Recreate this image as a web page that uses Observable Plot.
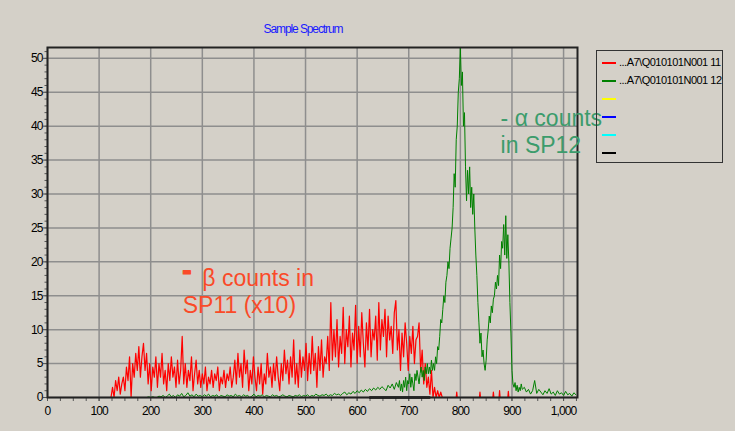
<!DOCTYPE html>
<html>
<head>
<meta charset="utf-8">
<script src="https://cdn.jsdelivr.net/npm/d3@7"></script>
<script src="https://cdn.jsdelivr.net/npm/@observablehq/plot@0.6"></script>
<style>
  html, body { margin: 0; padding: 0; background: #d4d0c8; }
  #wrap { position: relative; width: 735px; height: 431px; overflow: hidden; background: #d4d0c8; font-family: "Liberation Sans", Arial, sans-serif; }
  #title { position: absolute; left: 0; width: 606px; top: 22px; text-align: center; color: #1a1aff; font-size: 12px; letter-spacing: -1.1px; }
  #legend { position: absolute; left: 596px; top: 50px; width: 127px; height: 113px; border: 1px solid #333; box-sizing: border-box; }
  .lrow { position: absolute; left: 0; height: 18px; width: 127px; }
  .lline { position: absolute; left: 5px; top: 8px; width: 14px; height: 2px; }
  .ltext { position: absolute; left: 22px; top: 2px; font-size: 11px; letter-spacing: -0.5px; color: #000; white-space: nowrap; }
  svg text { letter-spacing: -0.9px; }
  svg .anno text { letter-spacing: 0px; }
</style>
</head>
<body>
<div id="wrap">
  <div id="title">Sample Spectrum</div>
  <div id="chart"></div>
  <div id="legend"></div>
</div>
<script>
// ---- Data ----
const titleText = "Sample Spectrum";
const seriesNames = ["...A7\\Q010101N001 11", "...A7\\Q010101N001 12", "", "", "", ""];
const seriesColors = ["#ff0000", "#008000", "#ffff00", "#0000ff", "#00ffff", "#000000"];

// Red series (beta counts x10), channels 120..765, step 3
const redStart = 120, redStep = 3;
const redCounts = [
  0, 0, 1.5, 0, 2.5, 1, 3, 0.5, 2, 3,
  1, 4.5, 2.5, 6, 0, 5, 3, 6.5, 4, 7.5,
  3, 6, 8, 4, 6.5, 2, 5, 1, 4.5, 3,
  6, 1.5, 5, 3, 6.5, 2, 4, 1, 5, 2.5,
  6, 3, 4.5, 1.5, 5.5, 2, 4, 9, 2, 5,
  1.5, 4, 2.5, 6, 1, 3.5, 5.5, 2, 4, 1.5,
  3.5, 2, 4.5, 1, 3, 2, 4, 1.5, 3.5, 2.5,
  4.5, 1, 3, 2, 4, 1.5, 3.5, 2.5, 4.5, 1.5,
  3, 5.5, 2, 6.5, 3, 5, 1.5, 7, 3.5, 5.5,
  1, 4, 2, 6, 3, 1, 4.5, 2, 5, 0.5,
  3.5, 2, 6.5, 3, 4.5, 1.5, 5, 2.5, 6, 3,
  1, 5, 2.5, 7, 3.5, 5.5, 2, 6, 3, 8.5,
  2, 5, 1.5, 7, 3, 6, 4, 8, 2.5, 6.5,
  3.5, 9, 4, 6.5, 1.5, 7.5, 4, 8.5, 3, 6,
  5, 9, 4, 14, 5.5, 10, 6, 11.5, 4.5, 9,
  6.5, 13.3, 5, 10, 7.5, 12, 4.5, 9.5, 7, 13.6,
  5, 10.5, 6, 12.5, 8, 4.5, 11, 7, 13, 6,
  10, 8.5, 12, 5.5, 14, 7, 11.5, 9, 13, 6,
  12, 8.5, 10.5, 6.5, 12.5, 14.3, 7, 10, 4, 9.5,
  6, 11, 8, 4, 9, 6.5, 10.5, 5, 8.5, 9,
  11, 4, 7, 2, 5, 1.5, 3, 0.5, 4, 0,
  1.5, 0, 1, 0, 0.8, 0
];
// isolated red spikes after the main band (channel, count)
const redSpikeChannels = [793, 838, 864, 876, 893];
const redSpikeCounts = [0.8, 0.8, 0.8, 1.0, 0.9];

// Green series (alpha counts)
const greenLowStart = 0, greenLowStep = 4;   // channels 0..676
const greenLow = [
  0, 0, 0, 0, 0, 0, 0, 0, 0, 0,
  0, 0, 0, 0, 0, 0, 0, 0, 0, 0,
  0, 0, 0, 0, 0, 0, 0, 0, 0, 0,
  0, 0, 0, 0, 0, 0, 0, 0, 0, 0,
  0, 0, 0, 0, 0, 0, 0, 0, 0, 0.1,
  0, 0.1, 0, 0, 0.2,
  0.1, 0.3, 0, 0.2, 0.5, 0.1, 0.3, 0, 0.4, 0.2,
  0.6, 0.1, 0.3, 0.7, 0.2, 0.4, 0.1, 0.5, 0.2, 0.3,
  0.1, 0.4, 0.2, 0.5, 0.1, 0.3, 0.2, 0.4, 0, 0.3,
  0.2, 0.1, 0.4, 0.2, 0.3, 0.1, 0.5, 0.2, 0.3, 0.1,
  0.4, 0.2, 0.3, 0, 0.2, 0.5, 0.1, 0.3, 0.2, 0.4,
  0.1, 0.3, 0.2, 0.1, 0.4, 0.2, 0.3, 0.1, 0.2, 0.4,
  0.2, 0.1, 0.3, 0.2, 0.1, 0.3, 0.2, 0.4, 0.1, 0.3,
  0.2, 0.4, 0.1, 0.3, 0.2, 0.5, 0.3, 0.2, 0.4, 0.3,
  0.5, 0.2, 0.4, 0.3, 0.6, 0.4,
  0.5, 0.3, 0.6, 0.8, 0.4, 0.7, 0.5, 0.9, 0.6, 1.0,
  0.7, 1.1, 0.8, 1.2, 0.9, 1.3, 1.0, 1.4, 1.1, 1.5,
  1.2, 1.6, 1.3, 1.0, 1.8, 1.4, 2.0, 1.2, 2.2
];
const greenPeakStart = 680, greenPeakStep = 2; // channels 680..920
const greenPeak = [
  1.5, 2.5, 1, 2, 0.8, 2.5, 1.5, 3, 1, 2.5,
  2, 3.5, 1.5, 3, 2, 1, 3.5, 2.5, 4, 3,
  2, 3.5, 4.5, 3, 4, 2.5, 4.5, 3.5, 5, 3.5,
  4.5, 3.5, 5.5, 4, 5, 4, 6, 5, 7.5, 7,
  9, 11.5, 11, 13, 15, 14, 17, 18, 20, 19,
  22, 23.5, 25, 28, 33, 31, 38, 40, 45, 47,
  51.6, 46, 48, 40, 42, 34, 29, 33.5, 30, 34,
  28, 31, 27, 30, 25, 21, 18, 14, 11, 8,
  9.5, 6, 7, 5, 4, 5.5, 8.5, 10, 12, 11,
  13.5, 12.5, 14.5, 15, 17, 16, 18, 16.5, 21, 19,
  23, 22, 25.5, 21, 26.8, 20.5, 24, 20, 14, 9.5,
  4, 2, 1.5, 2.2, 1, 1.8, 0.8, 1.5, 1, 2,
  1.2
];
const greenTailStart = 924, greenTailStep = 4; // channels 924..1024
const greenTail = [
  1.5, 0.8, 1.2, 0.5, 1, 2.5, 0.6, 1.2, 0.8, 0.4,
  1, 0.6, 1.3, 0.5, 0.8, 0.3, 1, 0.5, 0.7, 0.3,
  0.9, 0.4, 0.6, 0.2, 0.7, 0.4
];
// black series: flat at zero
const blackChannels = [625, 740];
const blackCounts = [0, 0];

// axis ticks
const xMajor = [0, 100, 200, 300, 400, 500, 600, 700, 800, 900, 1000];
const yMajor = [0, 5, 10, 15, 20, 25, 30, 35, 40, 45, 50];

// annotations
const annoTexts = ["β counts in", "SP11 (x10)", "- α counts", "in SP12"];
const annoX = [300, 262, 878, 878];
const annoY = [16.5, 12.5, 40.1, 36.1];
const annoColor = ["#fa4a28", "#fa4a28", "#3c9c6c", "#3c9c6c"];
const dashX = [261], dashY = [17.3];

// ---- Build tables ----
const red = [{c: 0, v: 0}];
redCounts.forEach((v, i) => red.push({c: redStart + i * redStep, v}));
redSpikeChannels.forEach((c, i) => { red.push({c: c - 1, v: 0}, {c, v: redSpikeCounts[i]}, {c: c + 1, v: 0}); });
red.push({c: 1025, v: 0});
red.sort((a, b) => a.c - b.c);

const green = [];
greenLow.forEach((v, i) => green.push({c: greenLowStart + i * greenLowStep, v}));
greenPeak.forEach((v, i) => green.push({c: greenPeakStart + i * greenPeakStep, v}));
greenTail.forEach((v, i) => green.push({c: greenTailStart + i * greenTailStep, v}));

const black = blackChannels.map((c, i) => ({c, v: blackCounts[i]}));
const annos = annoTexts.map((t, i) => ({t, x: annoX[i], y: annoY[i], color: annoColor[i]}));
const dashes = dashX.map((x, i) => ({x, y: dashY[i]}));

const xMinor = d3.range(0, 1026, 25);
const yMinor = d3.range(0, 52, 1);

const chart = Plot.plot({
  width: 735,
  height: 431,
  marginLeft: 47,
  marginRight: 158,
  marginTop: 47,
  marginBottom: 34,
  x: {domain: [0, 1027]},
  y: {domain: [0, 51.6]},
  style: {background: "transparent", fontFamily: "'Liberation Sans', Arial, sans-serif", fontSize: "12px", color: "#000"},
  marks: [
    Plot.gridX(xMajor, {stroke: "#8e8e8e", strokeOpacity: 1, strokeWidth: 1.5}),
    Plot.gridY(yMajor, {stroke: "#8e8e8e", strokeOpacity: 1, strokeWidth: 1.5}),
    Plot.axisX({ticks: xMinor, tickSize: 4, tickFormat: () => "", stroke: "#555"}),
    Plot.axisX({ticks: xMajor, tickSize: 4, tickPadding: 5, tickFormat: d3.format(","), label: null, stroke: "#555"}),
    Plot.axisY({ticks: yMinor, tickSize: 2.5, tickFormat: () => "", stroke: "#555"}),
    Plot.axisY({ticks: yMajor, tickSize: 4, tickPadding: 1, label: null, stroke: "#555"}),
    Plot.line(red, {x: "c", y: "v", stroke: seriesColors[0], strokeWidth: 1.2}),
    Plot.line(green, {x: "c", y: "v", stroke: seriesColors[1], strokeWidth: 1}),
    Plot.line(black, {x: "c", y: "v", stroke: seriesColors[5], strokeWidth: 2.5}),
    Plot.frame({stroke: "#222", strokeWidth: 2}),
    Plot.text(annos, {x: "x", y: "y", text: "t", fill: "color", fontSize: 23, textAnchor: "start", lineAnchor: "bottom", className: "anno"}),
    Plot.text(dashes, {x: "x", y: "y", text: () => "-", fill: annoColor[0], stroke: annoColor[0], strokeWidth: 1.2, fontSize: 28, fontWeight: "bold", textAnchor: "start", lineAnchor: "bottom", className: "anno"})
  ]
});
document.getElementById("chart").appendChild(chart);
document.getElementById("title").textContent = titleText;

const legend = document.getElementById("legend");
seriesNames.forEach((name, i) => {
  const row = document.createElement("div");
  row.className = "lrow";
  row.style.top = (3 + i * 18) + "px";
  const ln = document.createElement("div");
  ln.className = "lline";
  ln.style.background = seriesColors[i];
  const tx = document.createElement("div");
  tx.className = "ltext";
  tx.textContent = name;
  row.appendChild(ln); row.appendChild(tx);
  legend.appendChild(row);
});
</script>
</body>
</html>
